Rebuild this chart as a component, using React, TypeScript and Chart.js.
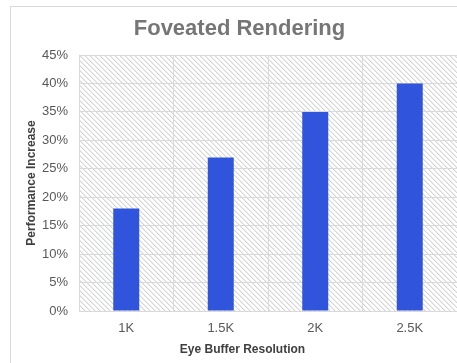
import React, { useEffect, useRef } from "react";
import { Chart, registerables } from "chart.js";

Chart.register(...registerables);

const categories = ["1K", "1.5K", "2K", "2.5K"];
const performanceIncrease = [18, 27, 35, 40];
const yTickMin = 0;
const yTickMax = 45;
const yTickStep = 5;

const chartTitle = "Foveated Rendering";
const xTitle = "Eye Buffer Resolution";
const yTitle = "Performance Increase";

function makeHatch(): CanvasPattern | string {
  const c = document.createElement("canvas");
  const n = 5;
  c.width = n;
  c.height = n;
  const g = c.getContext("2d");
  if (!g) return "#ffffff";
  g.fillStyle = "#ffffff";
  g.fillRect(0, 0, n, n);
  for (let i = 0; i < n; i++) {
    g.fillStyle = "#d4d4d4";
    g.fillRect(i, i, 1, 1);
    g.fillStyle = "#eeeeee";
    g.fillRect((i + 1) % n, i, 1, 1);
  }
  const p = g.createPattern(c, "repeat");
  return p || "#ffffff";
}

const decorPlugin = {
  id: "decor",
  beforeDraw(chart: any) {
    const { ctx, chartArea } = chart;
    ctx.save();
    ctx.fillStyle = "#ffffff";
    ctx.fillRect(0, 0, chart.width, chart.height);
    ctx.fillStyle = makeHatch();
    ctx.fillRect(
      chartArea.left,
      chartArea.top,
      chartArea.right - chartArea.left,
      chartArea.bottom - chartArea.top
    );
    ctx.restore();
  },
  afterDraw(chart: any) {
    const { ctx } = chart;
    ctx.save();
    ctx.textAlign = "center";
    ctx.textBaseline = "middle";
    ctx.fillStyle = "#767676";
    ctx.font = "bold 22px 'Liberation Sans', Arial, sans-serif";
    ctx.fillText(chartTitle, chart.width / 2 - 1, 22);
    ctx.fillStyle = "#404040";
    ctx.font = "bold 12px 'Liberation Sans', Arial, sans-serif";
    ctx.fillText(xTitle, chart.width / 2 + 2, 343);
    ctx.restore();
  },
};

export default function App() {
  const ref = useRef<HTMLCanvasElement | null>(null);
  useEffect(() => {
    if (!ref.current) return;
    const chart = new Chart(ref.current, {
      type: "bar",
      data: {
        labels: categories,
        datasets: [
          {
            data: performanceIncrease,
            backgroundColor: "#3054db",
            borderWidth: 0,
            barPercentage: 0.275,
            categoryPercentage: 1,
          },
        ],
      },
      options: {
        animation: false,
        responsive: false,
        devicePixelRatio: 1,
        layout: { padding: { top: 48, bottom: 26, left: 0, right: 13 } },
        plugins: {
          legend: { display: false },
          title: { display: false },
          tooltip: { enabled: false },
        },
        scales: {
          x: {
            grid: {
              color: "#d9d9d9",
              drawTicks: false,
              offset: true,
            },
            border: { color: "#d9d9d9" },
            ticks: {
              color: "#595959",
              padding: 9.5,
              font: { family: "'Liberation Sans', Arial, sans-serif", size: 13 },
            },
            afterFit(scale: any) {
              scale.height = 30;
            },
          },
          y: {
            min: yTickMin,
            max: yTickMax,
            grid: { color: "#d9d9d9", drawTicks: false },
            border: { color: "#d9d9d9" },
            ticks: {
              stepSize: yTickStep,
              color: "#595959",
              padding: 11,
              font: { family: "'Liberation Sans', Arial, sans-serif", size: 13 },
              callback: (v: any) => `${v}%`,
            },
            title: {
              display: true,
              text: yTitle,
              color: "#404040",
              padding: { top: 13.8, bottom: 0 },
              font: { family: "'Liberation Sans', Arial, sans-serif", size: 12, weight: "bold" },
            },
            afterFit(scale: any) {
              scale.width = 68;
            },
          },
        },
      },
      plugins: [decorPlugin],
    });
    return () => chart.destroy();
  }, []);

  return (
    <div
      style={{
        position: "fixed",
        left: 0,
        top: 0,
        width: 457,
        height: 363,
        overflow: "hidden",
        background: "#ffffff",
      }}
    >
      <div
        style={{
          position: "absolute",
          left: 10,
          top: 6,
          width: 459,
          height: 360,
          border: "1px solid #d9d9d9",
        }}
      >
        <canvas ref={ref} width={459} height={360} style={{ display: "block", width: 459, height: 360 }} />
      </div>
    </div>
  );
}
